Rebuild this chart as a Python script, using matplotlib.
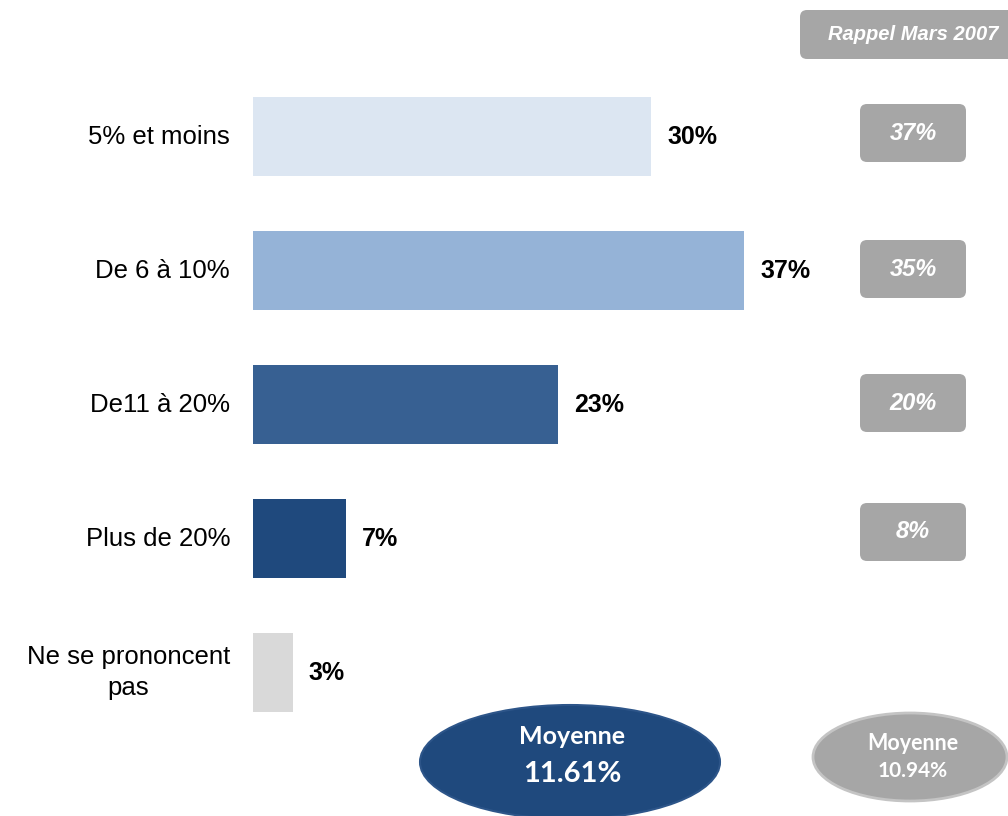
import matplotlib.pyplot as plt
from matplotlib.patches import Ellipse, FancyBboxPatch

categories = ['5% et moins', 'De 6 à 10%', 'De11 à 20%', 'Plus de 20%', 'Ne se prononcent\npas']
values = [30, 37, 23, 7, 3]
rappel = [37, 35, 20, 8, None]
moyenne = 11.61
moyenne_rappel = 10.94
bar_colors = ['#dce6f2', '#95b3d7', '#376092', '#1f497d', '#d9d9d9']
grey = '#a6a6a6'
navy = '#1f497d'

plt.rcParams['font.family'] = ['Liberation Sans', 'DejaVu Sans']

fig = plt.figure(figsize=(10.08, 8.16), dpi=100)
# bar axes starts at the bars' left edge, x in %, y in row index
ax = fig.add_axes([253 / 1008, 0, 755 / 1008, 1])
px = 13.27  # pixels per percent
ax.set_xlim(0, 755 / px)
ax.set_ylim((816 - 136.5) / 134, -136.5 / 134)
ax.axis('off')

rows = list(range(len(categories)))
ax.barh(rows, values, height=0.59, color=bar_colors)

for i, (cat, v) in enumerate(zip(categories, values)):
    ax.text(-23 / px, i, cat, ha='right', va='center', fontsize=18.5,
            color='black', linespacing=1.4, multialignment='center',
            clip_on=False)
    ax.text(v + 16 / px, i, f'{v}%', ha='left', va='center', fontsize=18,
            fontweight='bold', color='black')

# overlay in pixel units for the side boxes and the ellipses
ov = fig.add_axes([0, 0, 1, 1])
ov.set_xlim(0, 1008)
ov.set_ylim(816, 0)
ov.axis('off')

row_y = [133, 269, 403, 532]
for r, yc in zip(rappel, row_y):
    if r is None:
        continue
    ov.add_patch(FancyBboxPatch((860, yc - 29), 106, 58,
                                boxstyle='round,pad=0,rounding_size=7',
                                facecolor=grey, edgecolor='none'))
    ov.text(913, yc, f'{r}%', ha='center', va='center', fontsize=17,
            fontweight='bold', fontstyle='italic', color='white')

ov.add_patch(FancyBboxPatch((800, 10), 230, 49,
                            boxstyle='round,pad=0,rounding_size=7',
                            facecolor=grey, edgecolor='none', clip_on=False))
ov.text(913, 34, 'Rappel Mars 2007', ha='center', va='center', fontsize=14.5,
        fontweight='bold', fontstyle='italic', color='white')

ov.add_patch(Ellipse((570, 762), 300, 114, facecolor=navy,
                     edgecolor='#2d5589', linewidth=1.5, clip_on=False))
ov.text(572, 737, 'Moyenne', ha='center', va='center', fontsize=18,
        fontweight='bold', color='white', family=['Lato', 'DejaVu Sans'])
ov.text(572, 774, f'{moyenne:.2f}%', ha='center', va='center',
        fontsize=21, fontweight='bold', color='white',
        family=['Lato', 'DejaVu Sans'])

ov.add_patch(Ellipse((910, 757), 194, 88, facecolor=grey,
                     edgecolor='#c4c4c4', linewidth=2, clip_on=False))
ov.text(913, 743, 'Moyenne', ha='center', va='center', fontsize=15.5,
        fontweight='bold', color='white', family=['Lato', 'DejaVu Sans'])
ov.text(913, 771, f'{moyenne_rappel:.2f}%', ha='center', va='center',
        fontsize=15, fontweight='bold', color='white',
        family=['Lato', 'DejaVu Sans'])

fig.savefig('out.png', dpi=100)
